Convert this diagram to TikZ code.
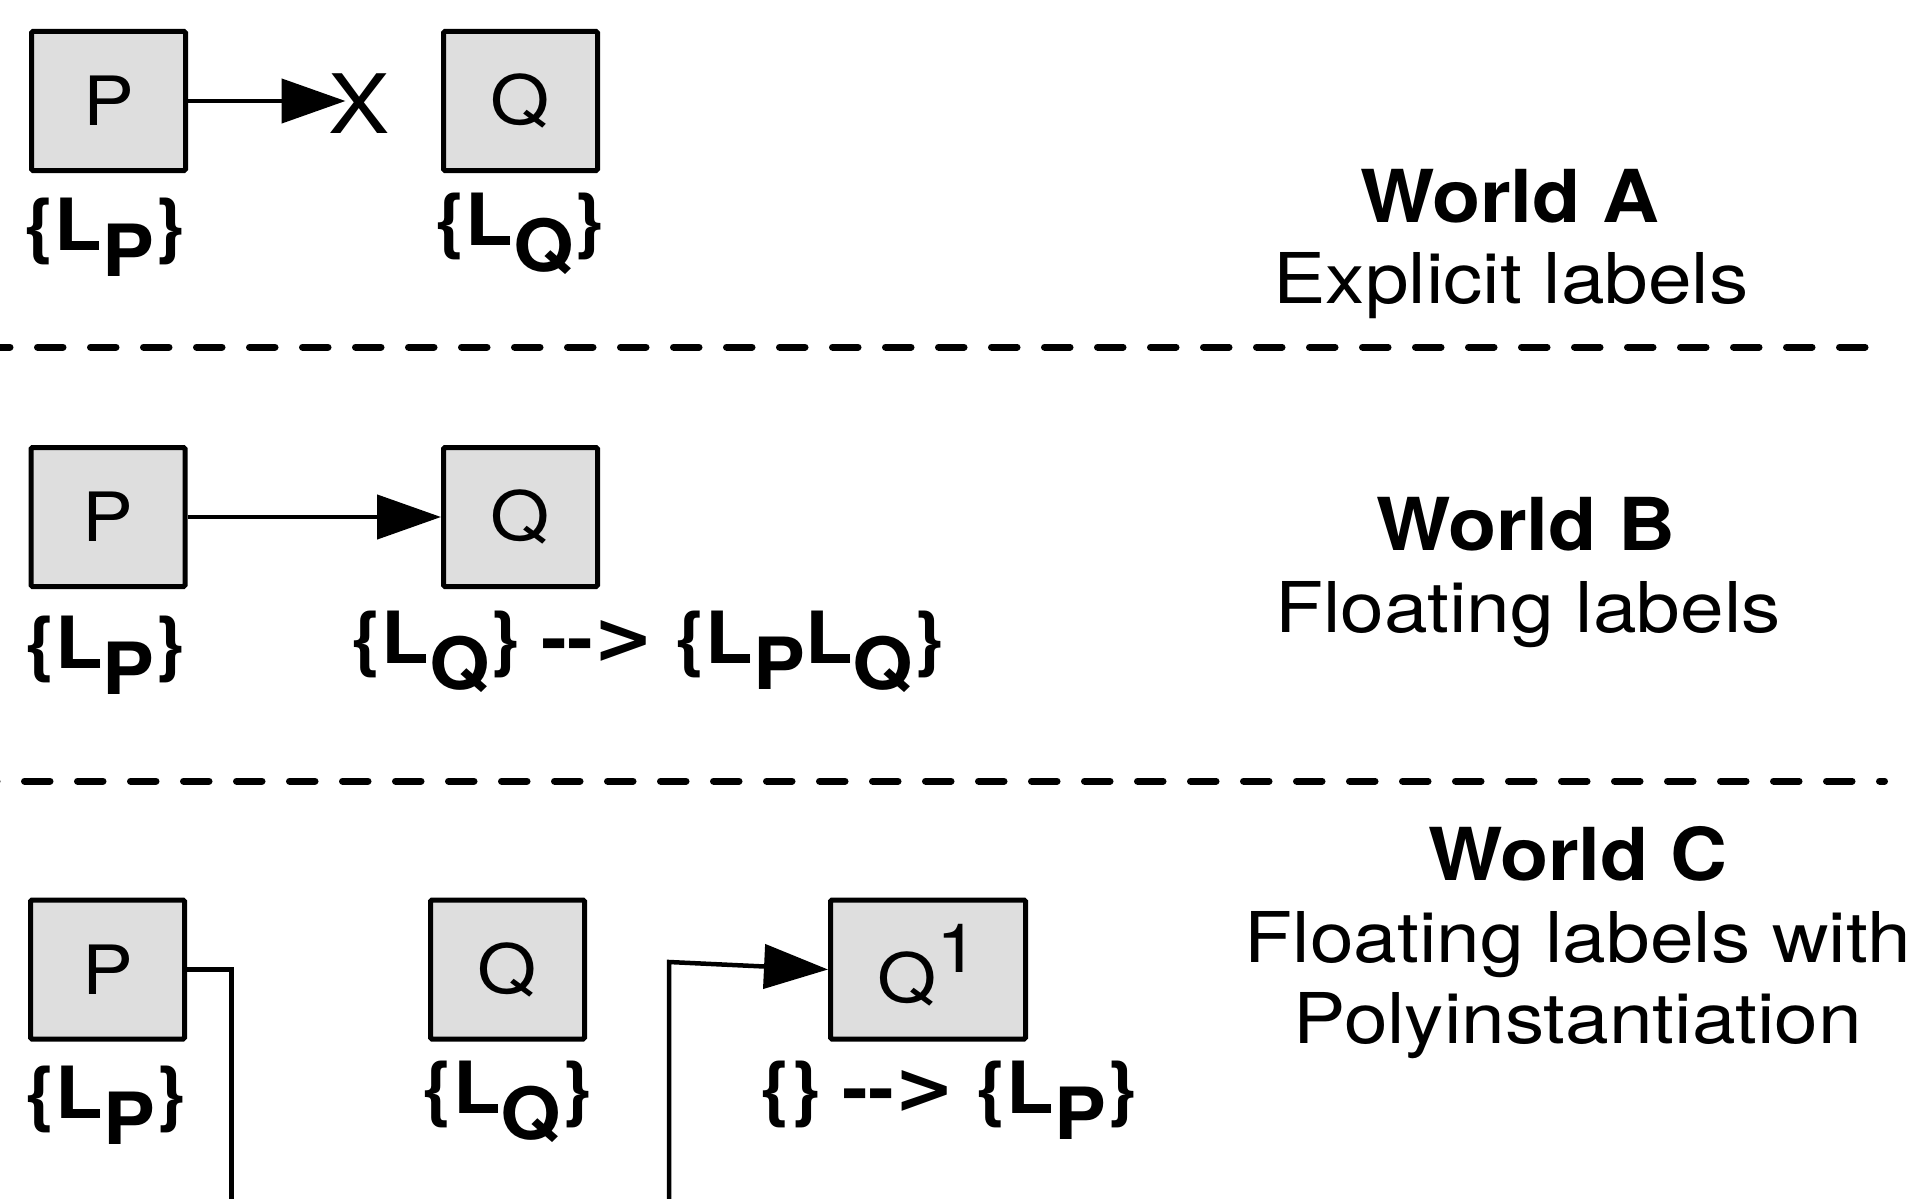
\documentclass[tikz,border=0pt]{standalone}
\usepackage{fontspec}
\newfontfamily\hvr{TeX Gyre Heros}[FakeStretch=1.12]
\newfontfamily\hvb{TeX Gyre Heros}[FakeStretch=1.08]
\newfontfamily\dvs{DejaVu Sans}
\usetikzlibrary{arrows.meta}
\definecolor{boxgray}{RGB}{222,222,222}
\newcommand\sbx[1]{\raisebox{-26pt}{#1}}
\newcommand\gtr{{\dvs\bfseries >}}
\begin{document}
\begin{tikzpicture}[x=1pt,y=-1pt,
  box/.style={draw=black, line width=5pt, fill=boxgray, rounded corners=1.5pt,
    minimum width=154pt, minimum height=139pt, inner sep=0pt,
    font=\hvr\fontsize{68}{80}\selectfont},
  lbl/.style={anchor=base, inner sep=0pt, font=\hvb\bfseries\fontsize{72}{86}\selectfont},
  ttl/.style={anchor=base, inner sep=0pt, font=\hvb\bfseries\fontsize{73}{88}\selectfont},
  subt/.style={anchor=base, inner sep=0pt, font=\hvr\fontsize{70}{84}\selectfont},
  conn/.style={line width=4.5pt},
  arr/.style={conn, -{Triangle[length=64pt,width=44pt]}},
  sepline/.style={line width=7pt, line cap=round, dash pattern=on 25.5pt off 27.5pt}
]
\useasboundingbox (0,0) rectangle (1909,1199);
\clip (0,0) rectangle (1909,1199);

% World A
\node[box] (pa) at (108.5,101) {P};
\node[box] (qa) at (520.5,101) {Q};
\node[inner sep=0pt, font=\hvr\fontsize{82}{96}\selectfont] (xa) at (359.5,103.5) {X};
\draw[arr, shorten >=14pt] (pa.east) -- (pa.east -| xa.center);
\node[lbl] (lpa) at (104.5,250) {\{L\sbx{P}\}};
\node[lbl] (lqa) at (519.5,245) {\{L\sbx{Q}\}};
\node[ttl] (wa) at (1510,222) {World A};
\node[subt] (ea) at (1511,303) {Explicit labels};
\coordinate (s1a) at (-15.5,347);
\coordinate (s1b) at (1865,347);
\draw[sepline] (s1a) -- (s1b);

% World B
\node[box] (pb) at (108,517) {P};
\node[box] (qb) at (520.5,517) {Q};
\draw[arr] (pb) -- (qb);
\node[lbl] (lpb) at (105,668) {\{L\sbx{P}\}};
\node[lbl] (lqb) at (647.5,663) {\{L\sbx{Q}\} -\kern0pt-\kern0pt\gtr\ \{L\sbx{P}L\sbx{Q}\}};
\node[ttl] (wb) at (1526,550) {World B};
\node[subt] (fb) at (1528,632) {Floating labels};
\coordinate (s2a) at (-28.5,781);
\coordinate (s2b) at (1884.5,781);
\draw[sepline] (s2a) -- (s2b);

% World C
\node[box] (pc) at (107.5,969.5) {P};
\node[box] (qc) at (507.5,969.5) {Q};
\node[box, minimum width=195pt, text height=65pt, text depth=0pt] (q1) at (928,969.5)
  {Q\raisebox{30pt}{1}\hspace{12pt}};
\coordinate (c1) at (231.5,1215);
\draw[conn] (pc.east) -| (c1);
\coordinate (c2b) at (669,1215);
\coordinate (c2t) at (669,962);
\draw[arr] (c2b) -- (c2t) -- (q1.west);
\node[lbl] (lpc) at (105.5,1118) {\{L\sbx{P}\}};
\node[lbl] (lqc) at (507,1113) {\{L\sbx{Q}\}};
\node[lbl] (lq1) at (948.5,1113) {\{\} -\kern0pt-\kern0pt\gtr\ \{L\sbx{P}\}};
\node[ttl] (wc) at (1578,880) {World C};
\node[subt] (fc) at (1578,962) {Floating labels with};
\node[subt] (pcx) at (1578,1043) {Polyinstantiation};
\end{tikzpicture}
\end{document}
